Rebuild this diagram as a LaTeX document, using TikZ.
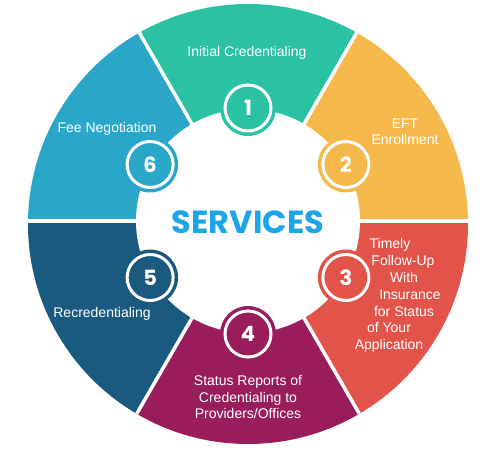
\documentclass[tikz,border=0pt]{standalone}
\usepackage{fontspec}
\setmainfont{Liberation Sans}
\newfontfamily\headfont{Poppins}
\definecolor{segone}{RGB}{42,194,163}
\definecolor{segtwo}{RGB}{245,185,75}
\definecolor{segthree}{RGB}{226,84,74}
\definecolor{segfour}{RGB}{152,29,90}
\definecolor{segfive}{RGB}{26,90,126}
\definecolor{segsix}{RGB}{42,167,200}
\definecolor{headblue}{RGB}{28,165,232}
\pgfdeclareradialshading{halo}{\pgfpoint{0bp}{0bp}}{color(0bp)=(white); color(28bp)=(white); color(40bp)=(black!7); color(50bp)=(black!7)}
\begin{document}
\begin{tikzpicture}[x=1pt,y=1pt,
    lbl/.style={text=white,anchor=base,inner sep=0,font=\fontsize{14}{17}\selectfont},
    numdot/.style={circle,draw=white,line width=3,minimum size=46,inner sep=0,text=white,font=\headfont\bfseries\fontsize{21}{21}\selectfont}]
  \useasboundingbox (0,0) rectangle (496,453);
  \shade[shading=halo] (248,229) circle (400);
  \coordinate (c) at (248,232);
  \begin{scope}
    \clip (248,229) circle (220);
    \foreach \a/\col in {90/segone,30/segtwo,-30/segthree,-90/segfour,210/segfive,150/segsix}
      \fill[\col] (c) -- ++(\a-30:300) arc (\a-30:\a+30:300) -- cycle;
    \foreach \a in {0,60,...,300}
      \draw[white,line width=3.5] (c) -- ++(\a:300);
  \end{scope}
  \fill[white] (c) circle (112);
  \foreach \a/\col/\n in {90/segone/1,30/segtwo/2,-30/segthree/3,-90/segfour/4,210/segfive/5,150/segsix/6}{
    \fill[\col] ([shift={(\a:113)}]c) circle (28);
    \node[numdot,fill=\col] (num\n) at ([shift={(\a:113)}]c) {\n};
  }
  \node[text=headblue,font=\headfont\bfseries\fontsize{32}{32}\selectfont] (title) at (248,231) {SERVICES};
  % labels
  \node[lbl] (initial) at (247,396) {Initial Credentialing};
  \node[lbl] (eft) at (405,324) {EFT};
  \node[lbl] (enroll) at (405,308) {Enrollment};
  \node[lbl] (timely) at (390,204) {Timely};
  \node[lbl] (follow) at (403,187) {Follow-Up};
  \node[lbl] (with) at (404,170) {With};
  \node[lbl] (insur) at (410,153) {Insurance};
  \node[lbl] (forst) at (404,136) {for Status};
  \node[lbl] (ofyour) at (389,120) {of Your};
  \node[lbl] (appl) at (389,103) {Application};
  \node[lbl] (status) at (248,67) {Status Reports of};
  \node[lbl] (credto) at (248,50) {Credentialing to};
  \node[lbl] (provid) at (248,34) {Providers/Offices};
  \node[lbl] (recred) at (102,135) {Recredentialing};
  \node[lbl] (fee) at (107,320) {Fee Negotiation};
\end{tikzpicture}
\end{document}
